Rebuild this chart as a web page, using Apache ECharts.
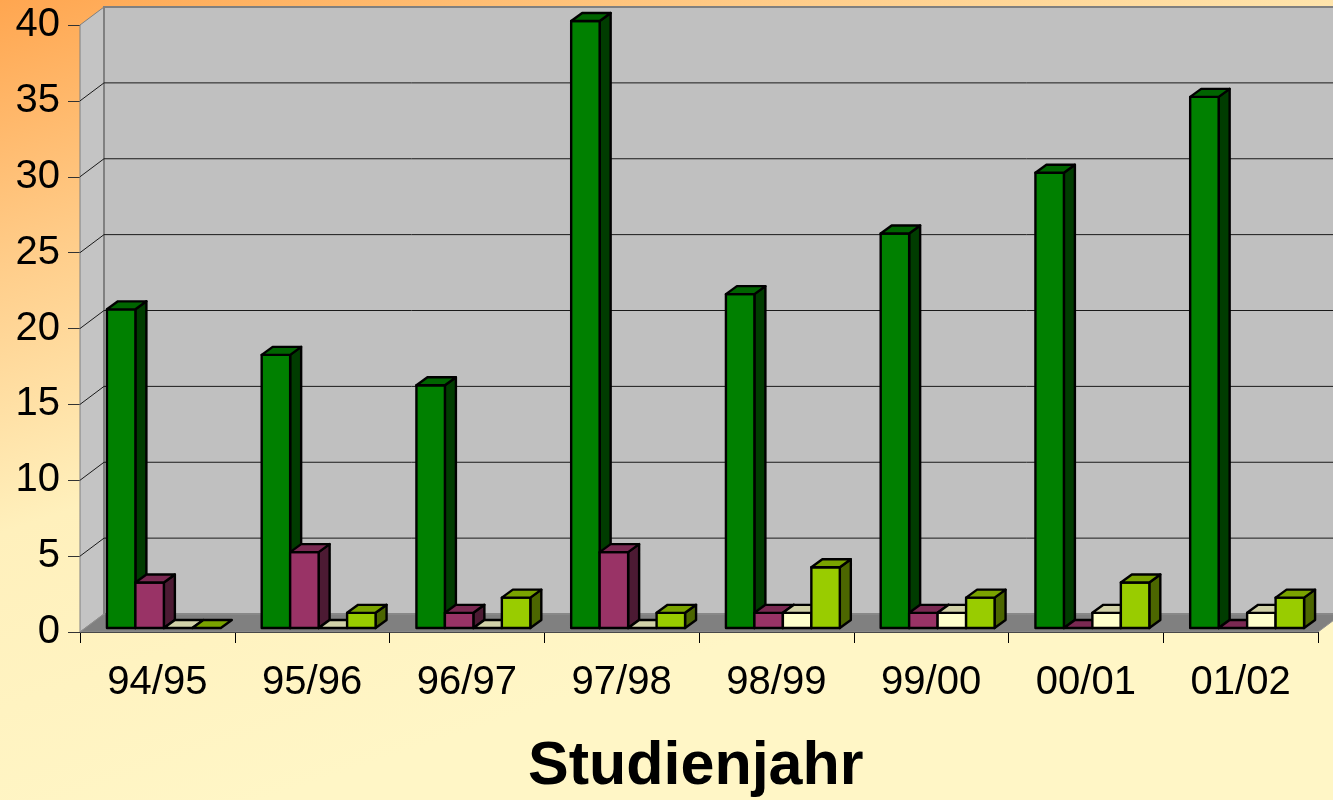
<!DOCTYPE html>
<html lang="de">
<head>
    <meta charset="UTF-8">
    <title>Studienjahr</title>
    <script src="https://cdn.jsdelivr.net/npm/echarts@6/dist/echarts.min.js"></script>
    <style>
        html, body {
            margin: 0;
            padding: 0;
        }

        #chart {
            width: 1333px;
            height: 800px;
        }
    </style>
</head>
<body>
<div id="chart"></div>
<script>
    // Werte pro Studienjahr
    var categories = ['94/95', '95/96', '96/97', '97/98', '98/99', '99/00', '00/01', '01/02'];
    var reihe1 = [21, 18, 16, 40, 22, 26, 30, 35];
    var reihe2 = [3, 5, 1, 5, 1, 1, 0, 0];
    var reihe3 = [0, 0, 0, 0, 1, 1, 1, 1];
    var reihe4 = [0, 1, 2, 1, 4, 2, 3, 2];
    var yTicks = [0, 5, 10, 15, 20, 25, 30, 35, 40];

    // 3D-Optik: Tiefe der Wand und der Säulen
    var DX = 24, DY = -18;
    var BAR_DX = 11, BAR_DY = -8;
    var BAR_SHIFT = 6.5, BAR_LIFT = -4;
    var BAR_RATIO = 0.184;

    var colors = [
        {front: '#008000', top: '#006400', side: '#003c00'},
        {front: '#993366', top: '#7a2952', side: '#4c1a33'},
        {front: '#ffffcc', top: '#d2d2a8', side: '#808066'},
        {front: '#99cc00', top: '#7aa300', side: '#4c6600'}
    ];

    var chart = echarts.init(document.getElementById('chart'));

    function walls(params, api) {
        var cs = params.coordSys;
        var L = cs.x, R = cs.x + cs.width, T = cs.y, B = cs.y + cs.height;
        var children = [];
        // linke Wand
        children.push({
            type: 'polygon',
            shape: {points: [[L, T], [L + DX, T + DY], [L + DX, B + DY], [L, B]]},
            style: {fill: '#c4c4c4', stroke: '#808080', lineWidth: 1}
        });
        // Rückwand
        children.push({
            type: 'rect',
            shape: {x: L + DX, y: T + DY, width: R - L + 40, height: B - T},
            style: {fill: '#c0c0c0', stroke: '#808080', lineWidth: 2}
        });
        // Gitterlinien
        for (var i = 0; i < yTicks.length; i++) {
            var v = yTicks[i];
            if (v === 0 || v === 40) continue;
            var y = api.coord([0, v])[1];
            children.push({
                type: 'line',
                shape: {x1: L + DX, y1: y + DY, x2: R + DX + 40, y2: y + DY},
                style: {stroke: '#1a1a1a', lineWidth: 1}
            });
            children.push({
                type: 'line',
                shape: {x1: L, y1: y, x2: L + DX, y2: y + DY},
                style: {stroke: '#1a1a1a', lineWidth: 1}
            });
        }
        // Boden
        children.push({
            type: 'polygon',
            shape: {points: [[L, B], [L + DX, B + DY], [R + DX, B + DY], [R, B]]},
            style: {fill: '#808080', stroke: '#909090', lineWidth: 1}
        });
        return {type: 'group', children: children};
    }

    function barRenderer(s) {
        var c = colors[s];
        return function (params, api) {
            var idx = api.value(0), val = api.value(1);
            var base = api.coord([idx, 0]);
            var top = api.coord([idx, val]);
            var cw = api.size([1, 0])[0];
            var bw = cw * BAR_RATIO;
            var x0 = base[0] - 2 * bw + s * bw + BAR_SHIFT;
            var x1 = x0 + bw;
            var yb = base[1] + BAR_LIFT, yt = top[1] + BAR_LIFT;
            var border = {stroke: '#000', lineWidth: 2.4, lineJoin: 'round'};
            var children = [];
            if (val > 0) {
                children.push({
                    type: 'polygon',
                    shape: {points: [[x1, yt], [x1 + BAR_DX, yt + BAR_DY], [x1 + BAR_DX, yb + BAR_DY], [x1, yb]]},
                    style: Object.assign({fill: c.side}, border)
                });
                children.push({
                    type: 'rect',
                    shape: {x: x0, y: yt, width: bw, height: yb - yt},
                    style: Object.assign({fill: c.front}, border)
                });
            }
            children.push({
                type: 'polygon',
                shape: {points: [[x0, yt], [x0 + BAR_DX, yt + BAR_DY], [x1 + BAR_DX, yt + BAR_DY], [x1, yt]]},
                style: Object.assign({fill: c.top}, border)
            });
            return {type: 'group', children: children};
        };
    }

    var reihen = [reihe1, reihe2, reihe3, reihe4];
    var series = [{
        type: 'custom',
        name: 'wand',
        data: [[0, 0]],
        z: 1,
        silent: true,
        renderItem: walls
    }];
    for (var s = 0; s < reihen.length; s++) {
        series.push({
            type: 'custom',
            name: 'Reihe ' + (s + 1),
            z: 2 + s,
            data: reihen[s].map(function (v, i) {
                return [i, v];
            }),
            encode: {x: 0, y: 1},
            renderItem: barRenderer(s)
        });
    }

    chart.setOption({
        animation: false,
        backgroundColor: {
            type: 'linear', x: 0, y: 0, x2: 0.2, y2: 1,
            colorStops: [
                {offset: 0, color: '#ffa650'},
                {offset: 0.3, color: '#ffcd8a'},
                {offset: 0.6, color: '#fff0bc'},
                {offset: 1, color: '#fff6c6'}
            ]
        },
        title: {
            text: 'Studienjahr',
            left: 528,
            top: 737,
            padding: 0,
            textStyle: {
                fontFamily: 'Liberation Sans',
                fontSize: 61,
                fontWeight: 'bold',
                color: '#000'
            }
        },
        grid: {left: 80, right: 15, top: 25, bottom: 168},
        xAxis: {
            type: 'category',
            data: categories,
            boundaryGap: true,
            axisLine: {lineStyle: {color: '#000', width: 1}},
            axisTick: {show: true, length: 11, interval: 0, lineStyle: {color: '#000'}},
            axisLabel: {
                fontFamily: 'Liberation Sans',
                fontSize: 40,
                color: '#000',
                margin: 31,
                interval: 0
            },
            splitLine: {show: false}
        },
        yAxis: {
            type: 'value',
            min: 0,
            max: 40,
            interval: 5,
            axisLine: {show: true, lineStyle: {color: '#000', width: 1}},
            axisTick: {show: true, length: 12, lineStyle: {color: '#333'}},
            axisLabel: {
                fontFamily: 'Liberation Sans',
                fontSize: 40,
                color: '#000',
                margin: 20
            },
            splitLine: {show: false}
        },
        series: series
    });
</script>
</body>
</html>
